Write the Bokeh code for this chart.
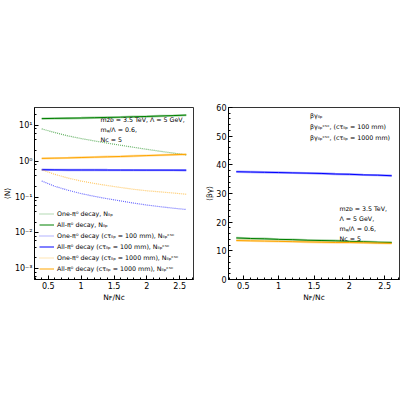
from bokeh.plotting import figure
from bokeh.layouts import row
from bokeh.models import (Legend, LegendItem, Label, CustomJSTickFormatter, Title,
                          Range1d, LogTicker, SingleIntervalTicker)
from bokeh.embed import file_html
from bokeh.resources import INLINE

# ---------------- data ----------------
ratio = [0.4, 0.6, 0.8, 1.0, 1.2, 1.4, 1.6, 1.8, 2.0, 2.2, 2.4, 2.6]

n_one = [8.0, 6.3, 5.1, 4.3, 3.7, 3.2, 2.8, 2.45, 2.15, 1.9, 1.7, 1.5]
n_all = [15.5, 15.7, 15.9, 16.1, 16.4, 16.7, 17.0, 17.4, 17.8, 18.3, 18.8, 19.4]
csc100_one = [0.28, 0.2, 0.155, 0.125, 0.105, 0.09, 0.078, 0.068, 0.06, 0.054, 0.049, 0.045]
csc100_all = [0.58, 0.575, 0.57, 0.57, 0.57, 0.568, 0.567, 0.566, 0.565, 0.565, 0.564, 0.563]
csc1000_one = [0.58, 0.43, 0.34, 0.28, 0.24, 0.21, 0.185, 0.165, 0.15, 0.14, 0.13, 0.12]
csc1000_all = [1.2, 1.22, 1.24, 1.27, 1.3, 1.33, 1.36, 1.4, 1.44, 1.48, 1.52, 1.56]

bg_llp = [14.5, 14.3, 14.2, 14.0, 13.9, 13.7, 13.6, 13.5, 13.3, 13.2, 13.0, 12.9]
bg_csc100 = [37.6, 37.5, 37.4, 37.3, 37.2, 37.1, 37.0, 36.8, 36.7, 36.5, 36.4, 36.2]
bg_csc1000 = [13.6, 13.5, 13.4, 13.3, 13.2, 13.1, 13.0, 12.9, 12.9, 12.8, 12.7, 12.6]

left_labels = [
    "One-π⁰ decay, Nₗₗₚ",
    "All-π⁰ decay, Nₗₗₚ",
    "One-π⁰ decay (cτₗₗₚ = 100 mm), Nₗₗₚᶜˢᶜ",
    "All-π⁰ decay (cτₗₗₚ = 100 mm), Nₗₗₚᶜˢᶜ",
    "One-π⁰ decay (cτₗₗₚ = 1000 mm), Nₗₗₚᶜˢᶜ",
    "All-π⁰ decay (cτₗₗₚ = 1000 mm), Nₗₗₚᶜˢᶜ",
]
right_labels = [
    "βγₗₗₚ",
    "βγₗₗₚᶜˢᶜ, (cτₗₗₚ = 100 mm)",
    "βγₗₗₚᶜˢᶜ, (cτₗₗₚ = 1000 mm)",
]
left_note = ["mᴢᴅ = 3.5 TeV, Λ = 5 GeV,", "mᵩ/Λ = 0.6,", "Nᴄ = 5"]
right_note = ["mᴢᴅ = 3.5 TeV,", "Λ = 5 GeV,", "mᵩ/Λ = 0.6,", "Nᴄ = 5"]
xlabel = "Nꜰ/Nᴄ"
ylabel_left = "⟨N⟩"
ylabel_right = "⟨βγ⟩"

GREEN, BLUE, ORANGE = "#008000", "#0000ff", "#ffa500"
FONT = "DejaVu Sans"


def style_axes(p):
    for ax in (p.xaxis[0], p.yaxis[0]):
        ax.major_tick_in = 4
        ax.major_tick_out = 0
        ax.minor_tick_in = 2
        ax.minor_tick_out = 0
        ax.major_label_text_font = FONT
        ax.major_label_text_font_size = "8px"
        ax.major_label_text_color = "black"
        ax.axis_label_text_font = FONT
        ax.axis_label_text_font_size = "7.5px"
        ax.axis_label_text_font_style = "normal"
        ax.axis_label_text_color = "black"
        ax.axis_line_color = "black"
        ax.major_tick_line_color = "black"
        ax.minor_tick_line_color = "black"
        ax.major_label_standoff = 2
        ax.axis_label_standoff = 1
    p.grid.visible = False
    p.outline_line_color = "black"
    p.outline_line_alpha = 0.8
    p.xaxis.ticker = SingleIntervalTicker(interval=0.5, num_minor_ticks=5)
    p.xaxis.axis_label = xlabel


def make_legend(labels, renderers, loc):
    return Legend(items=[LegendItem(label=l, renderers=[r]) for l, r in zip(labels, renderers)],
                  location=loc, padding=0, margin=0, spacing=0,
                  glyph_width=15, glyph_height=11, label_height=11, label_standoff=3,
                  label_text_font=FONT, label_text_font_size="6.3px", label_text_color="black",
                  border_line_alpha=0, background_fill_alpha=0)


def ylabel(p, text):
    p.add_layout(Title(text=text, align="center", standoff=0, offset=0,
                       text_font=FONT, text_font_size="7.5px", text_font_style="normal",
                       text_color="black"), "left")


# ---------------- left panel ----------------
p1 = figure(width=200, height=400, y_axis_type="log", output_backend="svg",
            toolbar_location=None, x_range=Range1d(0.29, 2.71),
            y_range=Range1d(10 ** -3.3, 10 ** 1.5),
            min_border_left=29, min_border_right=7, min_border_top=104, min_border_bottom=121)
style_axes(p1)
p1.yaxis.ticker = LogTicker(desired_num_ticks=6)
p1.yaxis.formatter = CustomJSTickFormatter(code="""
const e = Math.round(Math.log10(tick));
const sup = {'-':'⁻','0':'⁰','1':'¹','2':'²','3':'³','4':'⁴','5':'⁵','6':'⁶','7':'⁷','8':'⁸','9':'⁹'};
return '10' + String(e).split('').map(c => sup[c]).join('');
""")
ylabel(p1, ylabel_left)

r1 = p1.line(ratio, n_one, line_color=GREEN, line_dash="1 1", line_width=1.2, line_alpha=0.6)
p1.line(ratio, n_all, line_color=GREEN, line_width=2.4, line_alpha=0.35)
r2 = p1.line(ratio, n_all, line_color=GREEN, line_width=1.0)
r3 = p1.line(ratio, csc100_one, line_color=BLUE, line_dash="1 1", line_width=1.2, line_alpha=0.6)
p1.line(ratio, csc100_all, line_color=BLUE, line_width=2.4, line_alpha=0.35)
r4 = p1.line(ratio, csc100_all, line_color=BLUE, line_width=1.0)
r5 = p1.line(ratio, csc1000_one, line_color=ORANGE, line_dash="1 1", line_width=1.2, line_alpha=0.6)
p1.line(ratio, csc1000_all, line_color=ORANGE, line_width=2.4, line_alpha=0.35)
r6 = p1.line(ratio, csc1000_all, line_color=ORANGE, line_width=1.0)

p1.add_layout(make_legend(left_labels, [r1, r2, r3, r4, r5, r6], (5, 5)))

for i, t in enumerate(left_note):
    p1.add_layout(Label(x=66, y=160 - 10 * i, x_units="screen", y_units="screen", text=t,
                        text_font=FONT, text_font_size="6.3px", text_color="black",
                        text_baseline="middle"))

# ---------------- right panel ----------------
p2 = figure(width=200, height=400, output_backend="svg", toolbar_location=None,
            x_range=Range1d(0.29, 2.71), y_range=Range1d(0, 60),
            min_border_left=28, min_border_right=1, min_border_top=107, min_border_bottom=121)
style_axes(p2)
p2.yaxis.ticker = SingleIntervalTicker(interval=10, num_minor_ticks=5)
ylabel(p2, ylabel_right)

p2.line(ratio, bg_llp, line_color=GREEN, line_width=2.4, line_alpha=0.35)
p2.line(ratio, bg_llp, line_color=GREEN, line_width=1.0)
p2.line(ratio, bg_csc100, line_color=BLUE, line_width=2.4, line_alpha=0.35)
p2.line(ratio, bg_csc100, line_color=BLUE, line_width=1.0)
p2.line(ratio, bg_csc1000, line_color=ORANGE, line_width=2.4, line_alpha=0.35)
p2.line(ratio, bg_csc1000, line_color=ORANGE, line_width=1.0)

h1 = p2.line([], [], line_color=GREEN, line_width=2, line_alpha=0.45)
h2 = p2.line([], [], line_color=BLUE, line_width=2, line_alpha=0.45)
h3 = p2.line([], [], line_color=ORANGE, line_width=2, line_alpha=0.45)
p2.add_layout(make_legend(right_labels, [h1, h2, h3], (64, 136)))

for i, t in enumerate(right_note):
    p2.add_layout(Label(x=111, y=71 - 10 * i, x_units="screen", y_units="screen", text=t,
                        text_font=FONT, text_font_size="6.3px", text_color="black",
                        text_baseline="middle"))

layout = row(p1, p2)
open("out.html", "w").write(file_html(layout, INLINE))
